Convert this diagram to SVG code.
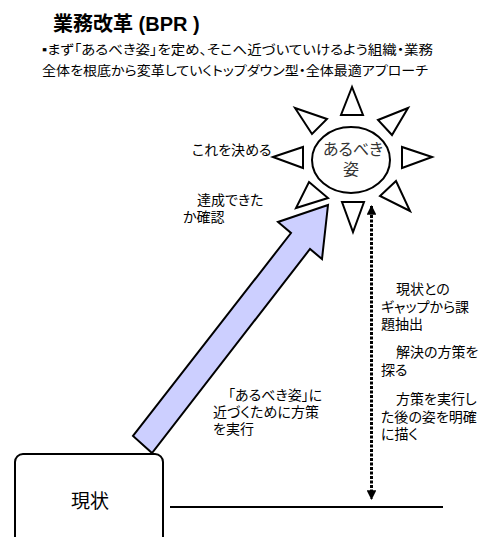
<svg xmlns="http://www.w3.org/2000/svg" width="484" height="537" viewBox="0 0 484 537">
<style>
text{font-family:"Liberation Sans","Noto Sans CJK JP",sans-serif;fill:#000;font-feature-settings:"palt"}
.title{font-size:20px;font-weight:bold}
.sub{font-size:13px}
.lbl{font-size:14px}
.sun{font-size:16px;fill:#333}
.ray{fill:#fff;stroke:#000;stroke-width:2;stroke-linejoin:miter}
.box{fill:#fff;stroke:#000;stroke-width:2}
</style>
<defs>
<marker id="ah" viewBox="0 0 10 10" refX="9" refY="5" markerWidth="3.2" markerHeight="3.2" orient="auto-start-reverse" markerUnits="strokeWidth">
<path d="M0,0 L10,5 L0,10 z" fill="#000"/>
</marker>
</defs>
<rect width="484" height="537" fill="#fff"/>

<g id="title">
<text class="title" x="53" y="31">業務改革 (BPR )</text>
</g>
<g id="subtitle">
<text class="sub" x="42" y="54" textLength="391" lengthAdjust="spacingAndGlyphs">▪まず「あるべき姿」を定め、そこへ近づいていけるよう組織・業務</text>
<text class="sub" x="42" y="75" textLength="386" lengthAdjust="spacingAndGlyphs">全体を根底から変革していくトップダウン型・全体最適アプローチ</text>
</g>

<g id="sun">
<polygon class="ray" points="352,87 341,115 363,115"/>
<polygon class="ray" points="342,202 364,202 353,232"/>
<polygon class="ray" points="273,157 303,147 303,168"/>
<polygon class="ray" points="432,157 402,147 402,168"/>
<polygon class="ray" points="295,108 327,119 312,134"/>
<polygon class="ray" points="408,108 378,120 392,135"/>
<polygon class="ray" points="309,182 328,198 296,208"/>
<polygon class="ray" points="396,181 380,196 410,211"/>
<ellipse class="box" cx="351" cy="160" rx="39" ry="33"/>
<text class="sun" x="353" y="155" text-anchor="middle">あるべき</text>
<text class="sun" x="351" y="175" text-anchor="middle">姿</text>
</g>

<g id="genjo">
<rect class="box" x="15" y="454" width="148" height="100" rx="8"/>
<text x="90" y="508" text-anchor="middle" style="font-size:19px">現状</text>
</g>

<g id="connectors">
<polygon points="328,205 278,222 291,233 133,436 152,453 310,249 322,259" fill="#CCCFFF" stroke="#000" stroke-width="2" stroke-linejoin="miter"/>
<line x1="371.5" y1="206" x2="371.5" y2="499" stroke="#000" stroke-width="3" stroke-dasharray="3 1.5" marker-start="url(#ah)" marker-end="url(#ah)"/>
<line x1="170" y1="507" x2="443" y2="507" stroke="#000" stroke-width="2"/>
</g>

<g id="labels">
<text class="lbl" x="192" y="155">これを決める</text>
<text class="lbl" x="197" y="205">達成できた</text>
<text class="lbl" x="183" y="222">か確認</text>
<text class="lbl" x="396" y="294">現状との</text>
<text class="lbl" x="381" y="312">ギャップから課</text>
<text class="lbl" x="381" y="329">題抽出</text>
<text class="lbl" x="396" y="357">解決の方策を</text>
<text class="lbl" x="381" y="375">探る</text>
<text class="lbl" x="396" y="404">方策を実行し</text>
<text class="lbl" x="381" y="422">た後の姿を明確</text>
<text class="lbl" x="381" y="439">に描く</text>
<text class="lbl" x="228" y="400">「あるべき姿」に</text>
<text class="lbl" x="213" y="417">近づくために方策</text>
<text class="lbl" x="213" y="434">を実行</text>
</g>
</svg>
